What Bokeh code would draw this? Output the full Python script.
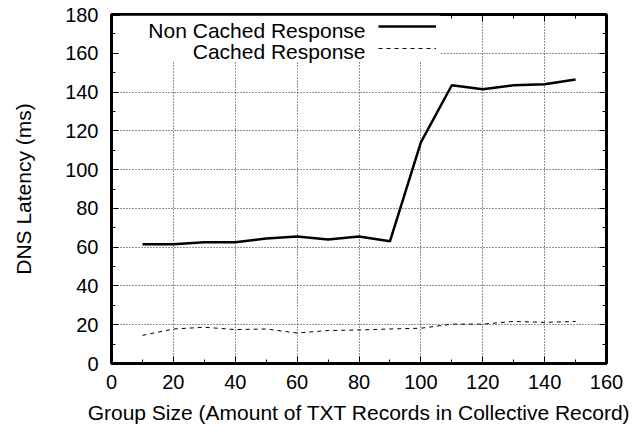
from bokeh.plotting import figure
from bokeh.models import (LinearAxis, Legend, LegendItem, Label, BoxAnnotation,
                          SingleIntervalTicker, Range1d)
from bokeh.embed import file_html
from bokeh.resources import INLINE

group_size = [10, 20, 30, 40, 50, 60, 70, 80, 90, 100, 110, 120, 130, 140, 150]
non_cached = [61.5, 61.5, 62.5, 62.5, 64.5, 65.5, 64, 65.5, 63, 114, 143.5, 141.5, 143.5, 144, 146.5]
cached = [14.5, 17.8, 18.7, 17.5, 17.8, 15.7, 17.0, 17.3, 17.8, 18.2, 20.3, 20.3, 21.7, 21.2, 21.7]
series_labels = ["Non Cached Response", "Cached Response"]
x_label = "Group Size (Amount of TXT Records in Collective Record)"
y_label = "DNS Latency (ms)"

FONT = "Liberation Sans"
TICK_FS = "20px"
LABEL_FS = "21px"

p = figure(width=634, height=426, x_range=Range1d(0, 160), y_range=Range1d(0, 180),
           output_backend="svg", toolbar_location=None,
           min_border_left=111, min_border_right=28, min_border_top=14, min_border_bottom=59,
           x_axis_label=x_label, y_axis_label=y_label)
p.background_fill_color = "white"
p.border_fill_color = "white"
p.outline_line_color = "black"
p.outline_line_width = 3

xt = SingleIntervalTicker(interval=20, num_minor_ticks=2)
yt = SingleIntervalTicker(interval=20, num_minor_ticks=2)
p.xaxis.ticker = xt
p.yaxis.ticker = yt

for ax in p.xaxis + p.yaxis:
    ax.axis_line_color = None
    ax.major_tick_in = 7
    ax.major_tick_out = 0
    ax.minor_tick_in = 4
    ax.minor_tick_out = 0
    ax.major_tick_line_color = "black"
    ax.minor_tick_line_color = "black"
    ax.major_label_text_font = FONT
    ax.major_label_text_font_size = TICK_FS
    ax.major_label_text_color = "black"
    ax.axis_label_text_font = FONT
    ax.axis_label_text_font_size = LABEL_FS
    ax.axis_label_text_font_style = "normal"
    ax.axis_label_text_color = "black"
p.xaxis.major_label_standoff = 11
p.yaxis.major_label_standoff = 13
p.xaxis.axis_label_standoff = 9
p.yaxis.axis_label_standoff = 27

# mirrored axes (ticks only)
for loc in ["right", "above"]:
    ax = LinearAxis(ticker=SingleIntervalTicker(interval=20, num_minor_ticks=2))
    ax.axis_line_color = None
    ax.major_tick_in = 7
    ax.major_tick_out = 0
    ax.minor_tick_in = 4
    ax.minor_tick_out = 0
    ax.major_label_text_font_size = "0px"
    ax.major_label_standoff = 0
    ax.major_label_text_alpha = 0
    p.add_layout(ax, loc)

for g in (p.xgrid, p.ygrid):
    g.ticker = xt if g is p.xgrid else yt
    g.grid_line_color = "black"
    g.grid_line_alpha = 0.85
    g.grid_line_width = 1
    g.grid_line_dash = "1 2"

r1 = p.line(group_size, non_cached, line_color="black", line_width=2.5)
r2 = p.line(group_size, cached, line_color="black", line_width=1, line_dash="4 4")

# white legend backdrop
box = BoxAnnotation(left=2.6, right=106.3, top=179.4, bottom=155.5,
                    fill_color="white", fill_alpha=1, line_color=None, level="annotation")
p.add_layout(box)

legend = Legend(items=[LegendItem(label="", renderers=[r1]),
                       LegendItem(label="", renderers=[r2])],
                location=(267, 305), glyph_width=58, glyph_height=20, spacing=2,
                padding=0, margin=0, label_width=0, label_standoff=0, label_height=20,
                border_line_color=None, background_fill_alpha=0,
                label_text_font_size="0px")
p.add_layout(legend)

for txt, yv in zip(series_labels, [171.9, 161.0]):
    p.add_layout(Label(x=82.1, y=yv, text=txt, text_align="right", text_baseline="middle",
                       text_font=FONT, text_font_size="21px", text_color="black"))

open("out.html", "w").write(file_html(p, INLINE))
